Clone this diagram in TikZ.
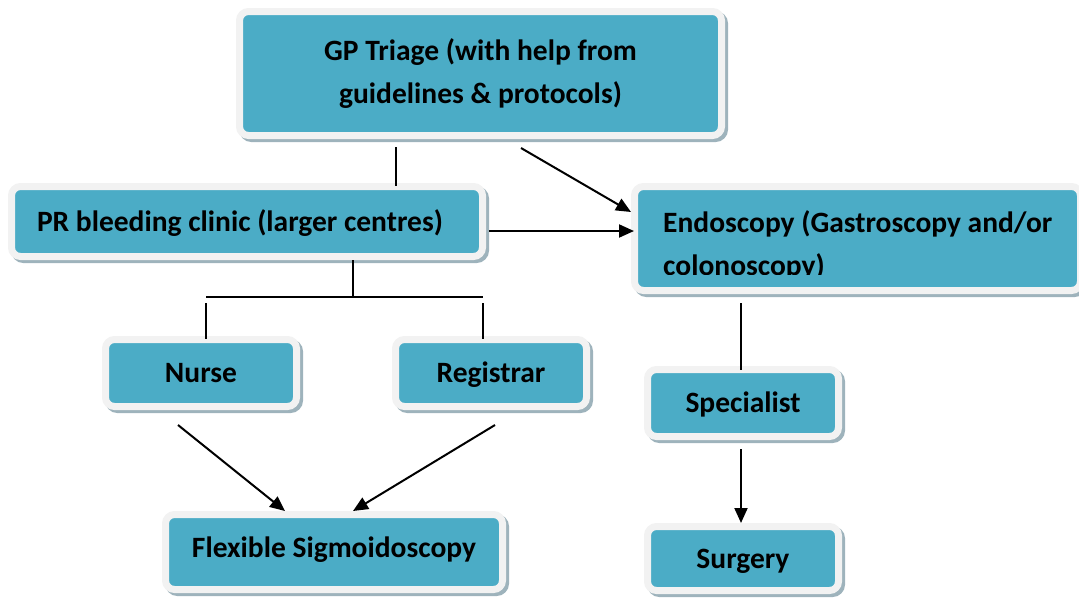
\documentclass[tikz,border=0pt]{standalone}
\usepackage{fontspec}
\setmainfont{Carlito}
\usetikzlibrary{arrows.meta,shadows}
\definecolor{boxteal}{HTML}{4BACC6}
\definecolor{boxrim}{HTML}{F2F2F2}
\definecolor{boxshade}{HTML}{9EB3BC}

\begin{document}
\begin{tikzpicture}[x=1pt, y=-1pt,
      card/.style={fill=boxteal, draw=boxrim, line width=7pt, rounded corners=9pt, inner sep=0pt,
                   drop shadow={shadow xshift=3pt, shadow yshift=-3pt, opacity=1,
                                fill=boxshade, draw=boxshade, line width=7pt},
                   font=\fontsize{29.5}{43}\selectfont\bfseries, align=center},
      solo/.style={card, text height=19pt, text depth=0pt},
      caption/.style={anchor=base west, inner sep=0pt, font=\fontsize{29.5}{43}\selectfont\bfseries},
      link/.style={line width=2pt},
      arrow/.style={link, -{Triangle[length=15pt,width=13pt]}}]
    \useasboundingbox (0,0) rectangle (1079,598);
    \node[card, minimum width=482pt, minimum height=124pt] (gp) at (480.5,73.5)
         {GP Triage (with help from\\guidelines \& protocols)};
    \node[solo, minimum width=471pt, minimum height=70pt, text width=420pt, align=flush left] (pr) at (247,221.5)
         {PR bleeding clinic (larger centres)};
    \node[card, minimum width=446pt, minimum height=104pt] (endo) at (857.5,238.5) {};
    \begin{scope}
      \clip (638,190) rectangle (1079,274);
      \node[caption] (endoa) at (663,232) {Endoscopy (Gastroscopy and/or};
      \node[caption] (endob) at (663,275) {colonoscopy)};
    \end{scope}
    \node[solo, minimum width=191pt, minimum height=67pt] (nurse) at (201,373) {Nurse};
    \node[solo, minimum width=191pt, minimum height=67pt] (reg)   at (491,373) {Registrar};
    \node[solo, minimum width=191pt, minimum height=67pt] (spec)  at (743,403) {Specialist};
    \node[solo, minimum width=191pt, minimum height=64pt] (surg)  at (743,558.5) {Surgery};
    \node[solo, minimum width=337pt, minimum height=75pt, text depth=9pt] (flex) at (334,552)
         {Flexible Sigmoidoscopy};

    % clinic branches
    \coordinate (split) at (353,297);
    \coordinate (lft) at (206,297);
    \coordinate (rgt) at (483,297);

    \draw[link] ([xshift=-84.5pt,yshift=-8pt]gp.south) -- ([xshift=149pt,yshift=-3pt]pr.north);
    \draw[arrow] ([xshift=40.5pt,yshift=-9pt]gp.south) -- ([yshift=26.5pt]endo.west);
    \draw[arrow] ([xshift=3pt,yshift=-9.5pt]pr.east) -- ([xshift=3pt,yshift=-9.5pt]pr.east -| endo.west);
    \draw[link] ([xshift=106pt]pr.south) -- (split);
    \draw[link] (lft) -- (rgt);
    \draw[link] ([yshift=-6pt]lft) -- ([yshift=-3pt]lft |- nurse.north);
    \draw[link] ([yshift=-6pt]rgt) -- ([yshift=-3pt]rgt |- reg.north);
    \draw[arrow] ([xshift=-23pt,yshift=-15pt]nurse.south) -- ([xshift=-49pt]flex.north);
    \draw[arrow] ([xshift=4pt,yshift=-15pt]reg.south) -- ([xshift=19pt]flex.north);
    \draw[link] ([xshift=-2pt,yshift=-9pt]spec.north |- endo.south) -- ([xshift=-2pt,yshift=-4pt]spec.north);
    \draw[arrow] ([xshift=-2pt,yshift=-9pt]spec.south) -- ([xshift=-2pt]surg.north);
  \end{tikzpicture}
\end{document}
